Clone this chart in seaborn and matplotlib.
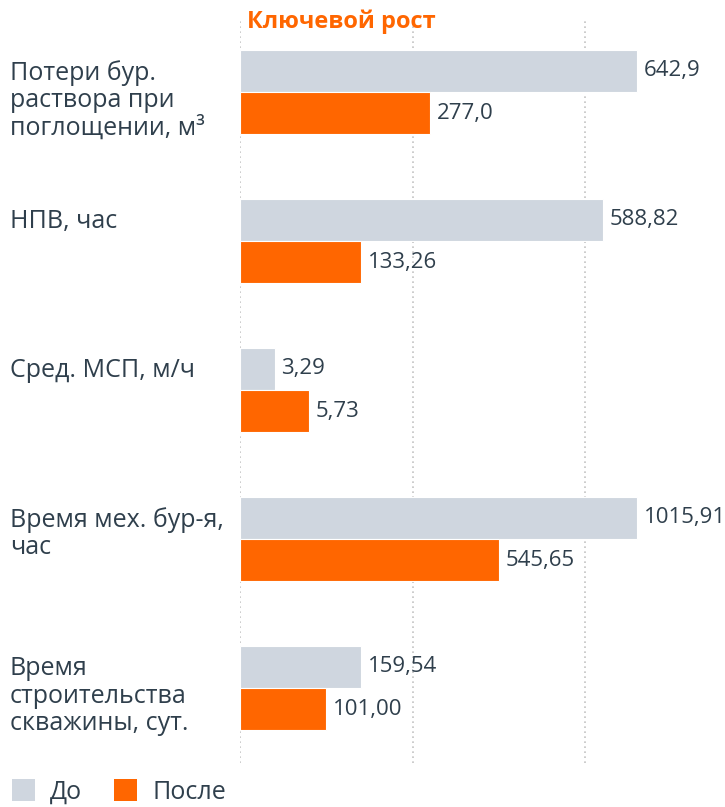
import matplotlib
matplotlib.use("Agg")
import matplotlib.pyplot as plt
import seaborn as sns
import pandas as pd
from matplotlib.patches import Patch

# ---- data ----
categories = [
    "Потери бур.\nраствора при\nпоглощении, м³",
    "НПВ, час",
    "Сред. МСП, м/ч",
    "Время мех. бур-я,\nчас",
    "Время\nстроительства\nскважины, сут.",
]
series = ["До", "После"]
# visual bar length (index scale, gridlines at 0/100/200)
before_index = [230, 210, 20, 230, 70]
after_index = [110, 70, 40, 150, 50]
# values shown on the labels
before_labels = ["642,9", "588,82", "3,29", "1015,91", "159,54"]
after_labels = ["277,0", "133,26", "5,73", "545,65", "101,00"]
title = "Ключевой рост"

colors = {"До": "#cfd6df", "После": "#ff6600"}
text_color = "#2f3f4c"

sns.set_theme(style="white")
plt.rcParams["font.family"] = ["Open Sans", "DejaVu Sans"]

df = pd.DataFrame({
    "cat": categories * 2,
    "period": [series[0]] * len(categories) + [series[1]] * len(categories),
    "val": before_index + after_index,
})

W, H = 725, 807
fig = plt.figure(figsize=(W / 100, H / 100), dpi=100)
x0 = 240
px_per_unit = 1.7265
ax_top, ax_bot = 17.5, 762.5
ax = fig.add_axes([x0 / W, 1 - ax_bot / H, 1 - x0 / W, (ax_bot - ax_top) / H])

sns.barplot(data=df, x="val", y="cat", hue="period", palette=colors,
            orient="h", width=0.57, dodge=True, ax=ax, legend=False,
            saturation=1, edgecolor="white", linewidth=0.8, zorder=2)

ax.set_xlim(0, (W - x0) / px_per_unit)
ax.set_ylim(len(categories) - 0.5, -0.5)
ax.set_xticks([0, 100, 200])
ax.xaxis.grid(True, linestyle=(0, (1, 2)), color="#c4c4c4", linewidth=1.2, zorder=0)
ax.yaxis.grid(False)
ax.set_axisbelow(True)
for s in ax.spines.values():
    s.set_visible(False)
ax.tick_params(left=False, bottom=False, labelleft=False, labelbottom=False)
ax.set_xlabel("")
ax.set_ylabel("")

for cont, labs in zip(ax.containers, [before_labels, after_labels]):
    ax.bar_label(cont, labels=labs, padding=5, fontsize=16, color=text_color,
                 clip_on=False)

# category labels (first line aligned with the "До" bar)
bar_h = 0.57 / 2
for i, c in enumerate(categories):
    ax.annotate(c, xy=(0, i - bar_h / 2), xycoords=("figure fraction", "data"),
                xytext=(10 / 100 * 72, 7.5), textcoords="offset points",
                ha="left", va="top", fontsize=18, color=text_color,
                linespacing=1.12, annotation_clip=False)

fig.text(247 / W, 1 - 22 / H, title, ha="left", va="center", fontsize=17,
         fontweight="bold", color="#ff6600")

handles = [Patch(facecolor=colors[s], edgecolor="none", label=s) for s in series]
leg = fig.legend(handles=handles, loc="center left", bbox_to_anchor=(12 / W, 1 - 792 / H),
                 ncol=2, frameon=False, fontsize=18, handlelength=0.92,
                 handleheight=0.92, handletextpad=0.6, columnspacing=1.28,
                 borderpad=0, borderaxespad=0, labelcolor=text_color)

fig.savefig("out.png", dpi=100)
